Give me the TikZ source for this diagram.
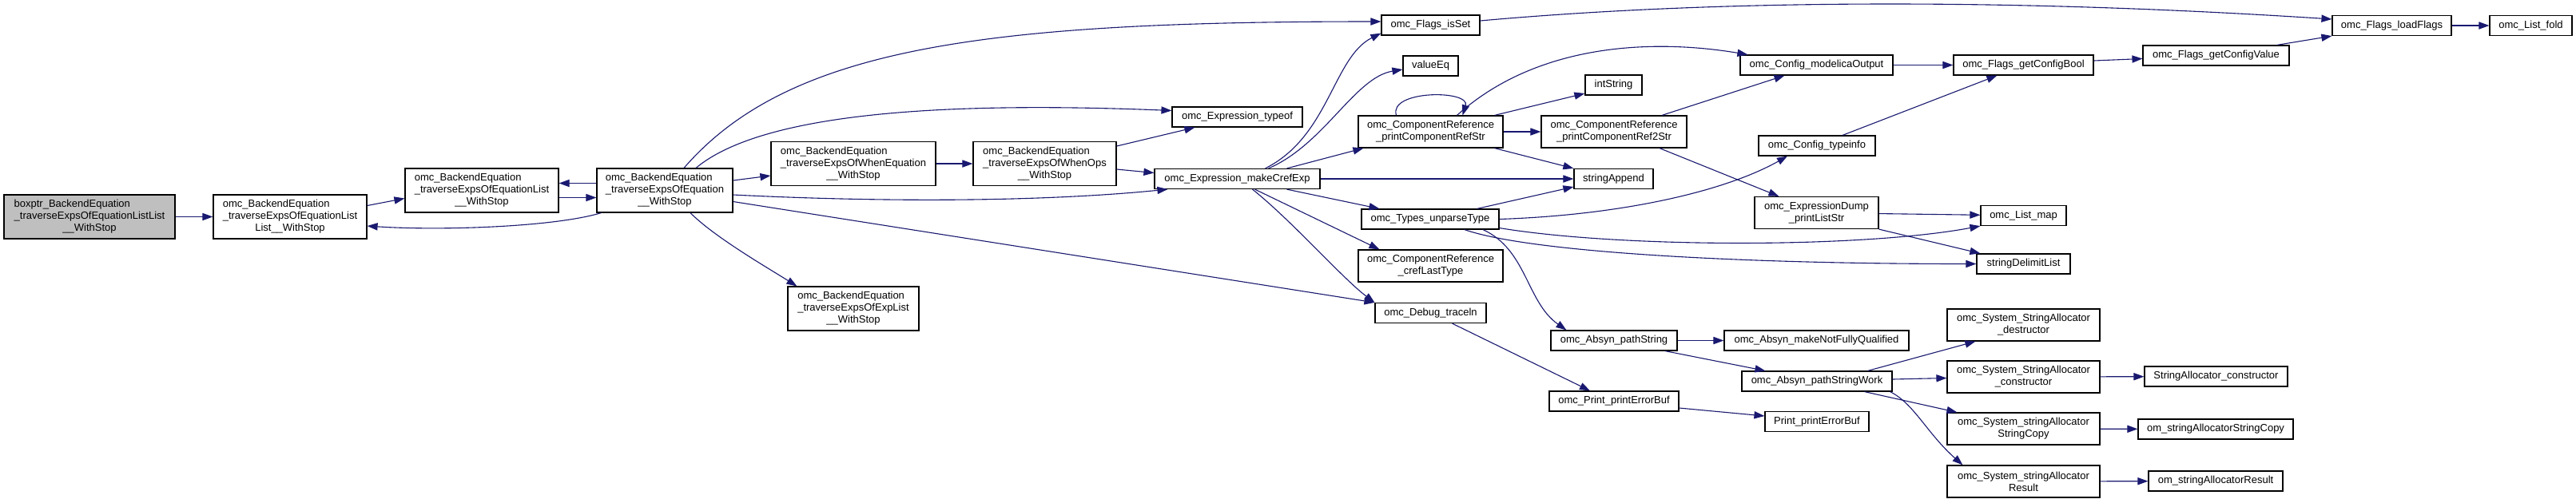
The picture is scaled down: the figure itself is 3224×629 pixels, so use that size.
\documentclass[tikz,border=0pt]{standalone}
\usepackage{fontspec}
\setmainfont{Liberation Sans}
\usetikzlibrary{arrows.meta,calc}
\definecolor{Edge}{HTML}{191970}
\definecolor{Root}{HTML}{BFBFBF}
\begin{document}
\begin{tikzpicture}[
  x=0.5pt,y=-0.5pt,
  fn/.style={draw=black,fill=white,line width=0.6pt,inner sep=0pt,align=left,font=\fontsize{6.5}{7.5}\selectfont},
  one/.style={fn,minimum height=12.5pt},
  two/.style={fn,minimum height=20pt},
  three/.style={fn,minimum height=27.5pt},
  arrow/.style={-{Triangle[length=6.5pt,width=4.6pt]},line width=0.55pt,draw=Edge}
]
\path[use as bounding box,fill=white] (0,0) rectangle (3224,629);
\node[three,fill=Root,minimum width=107pt] (boxptr) at (112,271.5) {boxptr\_BackendEquation\\\_traverseExpsOfEquationListList\\\hfil\_\_WithStop};
\node[three,minimum width=96pt] (n1) at (363,271.5) {omc\_BackendEquation\\\_traverseExpsOfEquationList\\\hfil List\_\_WithStop};
\node[three,minimum width=96pt] (n2) at (603,238.5) {omc\_BackendEquation\\\_traverseExpsOfEquationList\\\hfil\_\_WithStop};
\node[three,minimum width=85pt] (n3) at (832,238.5) {omc\_BackendEquation\\\_traverseExpsOfEquation\\\hfil\_\_WithStop};
\node[three,minimum width=103pt] (whenEq) at (1068,205) {omc\_BackendEquation\\\_traverseExpsOfWhenEquation\\\hfil\_\_WithStop};
\node[three,minimum width=89.5pt] (whenOps) at (1307.5,205) {omc\_BackendEquation\\\_traverseExpsOfWhenOps\\\hfil\_\_WithStop};
\node[three,minimum width=82pt] (expList) at (1068,386.5) {omc\_BackendEquation\\\_traverseExpsOfExpList\\\hfil\_\_WithStop};
\node[one,minimum width=81.5pt] (typeof) at (1548.5,146.5) {omc\_Expression\_typeof};
\node[one,minimum width=103.5pt] (makeCref) at (1548.5,224) {omc\_Expression\_makeCrefExp};
\node[one,minimum width=61.5pt] (isSet) at (1790.5,31.5) {omc\_Flags\_isSet};
\node[one,minimum width=34.5pt] (valueEq) at (1790.5,82.5) {valueEq};
\node[two,minimum width=90.5pt] (prStr) at (1790.5,165) {omc\_ComponentReference\\\hfil\_printComponentRefStr};
\node[one,minimum width=86pt] (unparse) at (1790,274.5) {omc\_Types\_unparseType};
\node[two,minimum width=90.5pt] (crefLast) at (1790.5,333) {omc\_ComponentReference\\\hfil\_crefLastType};
\node[one,minimum width=69.5pt] (traceln) at (1790.5,392) {omc\_Debug\_traceln};
\node[one,minimum width=35.5pt] (intString) at (2019.5,106.5) {intString};
\node[two,minimum width=91pt] (pr2Str) at (2020,165) {omc\_ComponentReference\\\hfil\_printComponentRef2Str};
\node[one,minimum width=49.5pt] (stringAppend) at (2019.5,224) {stringAppend};
\node[one,minimum width=79pt] (pathString) at (2020,426.5) {omc\_Absyn\_pathString};
\node[one,minimum width=81pt] (printErr) at (2020,502.5) {omc\_Print\_printErrorBuf};
\node[one,minimum width=95.5pt] (modelicaOut) at (2273.5,81.5) {omc\_Config\_modelicaOutput};
\node[one,minimum width=73pt] (typeinfo) at (2274,182.5) {omc\_Config\_typeinfo};
\node[two,minimum width=77.5pt] (dumpList) at (2273.5,266.5) {omc\_ExpressionDump\\\hfil\_printListStr};
\node[one,minimum width=115.5pt] (makeNFQ) at (2273.5,426.5) {omc\_Absyn\_makeNotFullyQualified};
\node[one,minimum width=94pt] (pathWork) at (2274,477.5) {omc\_Absyn\_pathStringWork};
\node[one,minimum width=65pt] (printBuf) at (2274,528) {Print\_printErrorBuf};
\node[one,minimum width=87.5pt] (cfgBool) at (2532.5,81.5) {omc\_Flags\_getConfigBool};
\node[one,minimum width=53.5pt] (listMap) at (2532.5,270) {omc\_List\_map};
\node[one,minimum width=58.5pt] (delimList) at (2532.5,330.5) {stringDelimitList};
\node[two,minimum width=95.5pt] (destr) at (2532.5,407) {omc\_System\_StringAllocator\\\hfil\_destructor};
\node[two,minimum width=95.5pt] (constr) at (2532.5,472) {omc\_System\_StringAllocator\\\hfil\_constructor};
\node[two,minimum width=95.5pt] (strCopy) at (2532.5,537) {omc\_System\_stringAllocator\\\hfil StringCopy};
\node[two,minimum width=95.5pt] (result) at (2532.5,603) {omc\_System\_stringAllocator\\\hfil Result};
\node[one,minimum width=91.5pt] (cfgValue) at (2773.5,69.5) {omc\_Flags\_getConfigValue};
\node[one,minimum width=89.5pt] (saConstr) at (2773.5,471.5) {StringAllocator\_constructor};
\node[one,minimum width=97pt] (omCopy) at (2773,537.5) {om\_stringAllocatorStringCopy};
\node[one,minimum width=84pt] (omResult) at (2773,602.5) {om\_stringAllocatorResult};
\node[one,minimum width=74.5pt] (loadFlags) at (2993.5,32) {omc\_Flags\_loadFlags};
\node[one,minimum width=51.5pt] (listFold) at (3167.5,32) {omc\_List\_fold};
\draw[arrow] (boxptr) -- (n1);
\draw[arrow] ($(n1.east)+(0,-14)$) -- ($(n2.west)+(0,10)$);
\draw[arrow] ($(n2.east)+(0,9)$) -- ($(n3.west)+(0,9)$);
\draw[arrow] ($(n3.west)+(0,-9)$) -- ($(n2.east)+(0,-9)$);
\draw[arrow] ($(n3.south west)+(6,0)$) .. controls +(-60,18) and +(90,6) .. ($(n1.east)+(0,11.5)$);
\draw[arrow] ($(n3.north)+(24,0)$) .. controls +(130,-150) and +(-500,0) .. ($(isSet.west)+(0,-4.5)$);
\draw[arrow] ($(n3.north)+(39,0)$) .. controls +(90,-75) and +(-250,-10) .. ($(typeof.west)+(0,-8)$);
\draw[arrow] ($(n3.east)+(0,-12.5)$) -- ($(whenEq.west)+(0,15)$);
\draw[arrow] ($(n3.east)+(0,5.5)$) .. controls +(200,10) and +(-150,15) .. ($(makeCref.south west)+(17,0)$);
\draw[arrow] ($(n3.east)+(0,14)$) -- (traceln.north west);
\draw[arrow] ($(n3.south)+(32,0)$) .. controls +(30,30) and +(-40,-25) .. ($(expList.north west)+(12,0)$);
\draw[arrow] (whenEq) -- (whenOps);
\draw[arrow] ($(whenOps.east)+(0,-22)$) -- ($(typeof.south west)+(29,0)$);
\draw[arrow] ($(whenOps.east)+(0,7)$) -- ($(makeCref.west)+(0,-7.5)$);
\draw[arrow] ($(makeCref.north)+(35,0)$) .. controls +(80,-40) and +(-60,30) .. ($(isSet.south west)+(0,-3)$);
\draw[arrow] ($(makeCref.north)+(39,0)$) .. controls +(70,-30) and +(-60,10) .. ($(valueEq.west)+(0,4.5)$);
\draw[arrow] ($(makeCref.north)+(62,0)$) -- ($(prStr.south west)+(7,0)$);
\draw[arrow] (makeCref) -- (stringAppend);
\draw[arrow] ($(makeCref.south)+(62,0)$) -- ($(unparse.north west)+(23,0)$);
\draw[arrow] ($(makeCref.south)+(22,0)$) -- ($(crefLast.north west)+(27,0)$);
\draw[arrow] ($(makeCref.south)+(19,0)$) .. controls +(50,40) and +(-40,-30) .. (traceln.north west);
\draw[arrow] ($(prStr.north)+(-43,0)$) .. controls +(-10,-32) and +(10,-32) .. ($(prStr.north)+(40,0)$);
\draw[arrow] ($(prStr.north)+(33,0)$) .. controls +(100,-90) and +(-120,-20) .. ($(modelicaOut.north west)+(10,0)$);
\draw[arrow] ($(prStr.north east)+(-11,0)$) -- ($(intString.west)+(0,10.5)$);
\draw[arrow] (prStr) -- (pr2Str);
\draw[arrow] ($(prStr.south east)+(-11,0)$) -- (stringAppend.north west);
\draw[arrow] ($(pr2Str.north)+(60,0)$) -- ($(modelicaOut.south)+(-40,0)$);
\draw[arrow] ($(pr2Str.south)+(57,0)$) -- ($(dumpList.north west)+(31,0)$);
\draw[arrow] ($(unparse.north east)+(-28,0)$) -- ($(stringAppend.west)+(0,10)$);
\draw[arrow] (unparse.east) .. controls +(150,-5) and +(-80,45) .. ($(typeinfo.south)+(-37,0)$);
\draw[arrow] ($(unparse.east)+(0,11)$) .. controls +(150,25) and +(-150,28) .. (listMap.south west);
\draw[arrow] ($(unparse.south)+(43,0)$) .. controls +(80,28) and +(-300,0) .. (delimList.west);
\draw[arrow] ($(unparse.south)+(66,0)$) .. controls +(55,25) and +(-50,-35) .. ($(pathString.north west)+(20,0)$);
\draw[arrow] ($(traceln.south)+(27,0)$) -- ($(printErr.north)+(-30,0)$);
\draw[arrow] ($(printErr.east)+(0,8.5)$) -- ($(printBuf.west)+(0,-7)$);
\draw[arrow] (pathString) -- (makeNFQ);
\draw[arrow] ($(pathString.south)+(64,0)$) -- ($(pathWork.north west)+(30,0)$);
\draw[arrow] ($(pathWork.north east)+(-31,0)$) -- ($(destr.south west)+(36,0)$);
\draw[arrow] ($(pathWork.east)+(0,-2.5)$) -- ($(constr.west)+(0,1.5)$);
\draw[arrow] ($(pathWork.south east)+(-35,0)$) -- ($(strCopy.north west)+(13,0)$);
\draw[arrow] ($(pathWork.south east)+(-3,0)$) .. controls +(30,15) and +(-45,-40) .. ($(result.north west)+(20,0)$);
\draw[arrow] (constr) -- (saConstr);
\draw[arrow] (strCopy) -- (omCopy);
\draw[arrow] (result) -- (omResult);
\draw[arrow] (dumpList) -- (listMap);
\draw[arrow] (dumpList.south east) -- ($(delimList.north west)+(5,0)$);
\draw[arrow] (modelicaOut) -- (cfgBool);
\draw[arrow] ($(typeinfo.north)+(32,0)$) -- ($(cfgBool.south west)+(55,0)$);
\draw[arrow] ($(cfgBool.east)+(0,-5.5)$) -- ($(cfgValue.west)+(0,4)$);
\draw[arrow] ($(cfgValue.north east)+(-16,0)$) -- (loadFlags.south west);
\draw[arrow] ($(isSet.east)+(0,-5.5)$) .. controls +(300,-27) and +(-400,-26) .. ($(loadFlags.west)+(0,-8)$);
\draw[arrow] (loadFlags) -- (listFold);
\end{tikzpicture}
\end{document}
